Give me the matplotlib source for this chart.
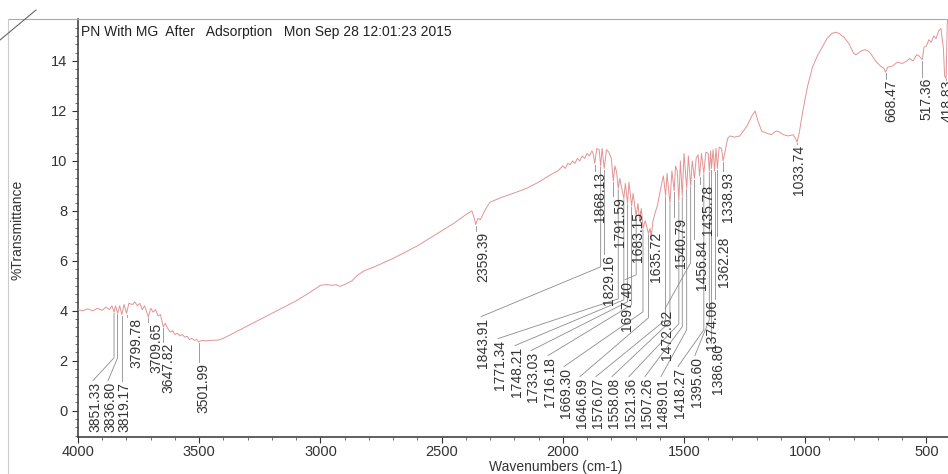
import numpy as np
import matplotlib
matplotlib.use("Agg")
import matplotlib.pyplot as plt
from matplotlib.ticker import MultipleLocator
from matplotlib.lines import Line2D

plt.rcParams['font.family'] = ['Liberation Sans', 'DejaVu Sans']

# espectro (numero de onda, %T)
wavenumber = [4000, 3980, 3960, 3940, 3920, 3900, 3885, 3870, 3860, 3851.33, 3845, 3836.80,
              3828, 3819.17, 3810, 3799.78, 3790, 3775, 3765, 3755, 3745, 3735, 3725, 3709.65,
              3700, 3690, 3680, 3670, 3660, 3647.82, 3640, 3630, 3620, 3610, 3600, 3590, 3580,
              3570, 3560, 3550, 3540, 3530, 3520, 3510, 3501.99, 3490, 3470, 3450, 3420, 3400,
              3350, 3300, 3250, 3200, 3150, 3100, 3050, 3010, 3000, 2975, 2950, 2935, 2920,
              2900, 2870, 2850, 2820, 2780, 2700, 2600, 2500, 2450, 2400, 2375, 2365, 2359.39,
              2350, 2340, 2320, 2300, 2250, 2200, 2150, 2100, 2050, 2020, 2000, 1990, 1980,
              1970, 1960, 1950, 1940, 1930, 1920, 1910, 1900, 1890, 1880, 1875, 1868.13, 1860,
              1850, 1843.91, 1838, 1829.16, 1820, 1810, 1800, 1791.59, 1785, 1778, 1771.34,
              1765, 1757, 1748.21, 1742, 1733.03, 1727, 1716.18, 1710, 1697.40, 1690, 1683.15,
              1676, 1669.30, 1660, 1646.69, 1640, 1635.72, 1628, 1620, 1610, 1600, 1590, 1585,
              1576.07, 1570, 1558.08, 1550, 1540.79, 1535, 1528, 1521.36, 1515, 1507.26, 1500,
              1489.01, 1482, 1472.62, 1466, 1456.84, 1450, 1442, 1435.78, 1428, 1418.27, 1410,
              1400, 1395.60, 1390, 1386.80, 1380, 1374.06, 1368, 1362.28, 1355, 1345, 1338.93,
              1330, 1320, 1310, 1290, 1270, 1255, 1240, 1220, 1207, 1195, 1180, 1170, 1155,
              1140, 1120, 1105, 1090, 1070, 1050, 1040, 1033.74, 1025, 1010, 990, 970, 950, 930,
              910, 890, 875, 860, 840, 820, 800, 790, 770, 755, 740, 730, 710, 690, 675, 668.47,
              660, 640, 620, 600, 580, 570, 555, 540, 530, 517.36, 510, 500, 490, 480, 470, 460,
              450, 440, 430, 425, 418.83, 414, 408]
transmittance = [4.05, 4.0, 4.08, 4.0, 4.1, 4.02, 4.15, 4.05, 4.2, 3.95, 4.2, 3.9,
                 4.2, 3.85, 4.25, 3.9, 4.3, 4.25, 4.35, 4.2, 4.3, 4.05, 4.2, 3.75,
                 4.1, 3.95, 4.05, 3.8, 3.85, 3.35, 3.5, 3.3, 3.15, 3.2, 3.05, 3.1, 3.0,
                 3.05, 2.95, 2.98, 2.85, 2.9, 2.82, 2.85, 2.75, 2.82, 2.8, 2.82, 2.83, 2.9,
                 3.15, 3.4, 3.65, 3.9, 4.15, 4.4, 4.7, 4.95, 5.02, 5.05, 5.02, 5.05, 4.98,
                 5.05, 5.2, 5.4, 5.6, 5.75, 6.1, 6.6, 7.2, 7.5, 7.85, 8.0, 7.7, 7.45,
                 7.7, 7.65, 8.05, 8.35, 8.55, 8.72, 8.9, 9.15, 9.45, 9.6, 9.8, 9.7, 9.9,
                 9.85, 10.0, 9.9, 10.1, 10.0, 10.2, 10.1, 10.3, 10.2, 10.4, 10.3, 9.9, 10.5,
                 10.45, 9.8, 10.5, 9.7, 10.45, 10.35, 10.1, 9.2, 9.8, 9.55, 8.9,
                 9.3, 8.9, 8.5, 9.1, 8.3, 9.15, 8.2, 8.7, 7.8, 8.3, 7.6,
                 8.1, 7.3, 7.6, 7.1, 7.3, 6.95, 7.6, 7.9, 8.2, 8.7, 9.2, 9.4,
                 8.6, 9.5, 8.3, 9.6, 8.8, 9.8, 9.6, 8.4, 10.0, 8.6, 10.3,
                 8.9, 10.2, 9.0, 10.0, 9.3, 10.1, 10.25, 9.4, 10.3, 9.5, 10.35,
                 10.3, 9.6, 10.4, 9.7, 10.45, 9.6, 10.5, 9.7, 10.55, 10.5, 10.0,
                 10.4, 10.9, 11.0, 10.95, 11.0, 11.2, 11.4, 11.8, 12.0, 11.6, 11.2, 11.15, 11.1,
                 11.05, 11.2, 11.15, 11.05, 11.0, 11.05, 10.9, 10.75, 11.1, 12.0, 13.0, 13.75, 14.2, 14.55,
                 14.9, 15.1, 15.15, 15.1, 14.95, 14.7, 14.3, 14.25, 14.4, 14.45, 14.4, 14.3, 14.0, 13.8, 13.7, 13.55,
                 13.75, 13.8, 13.95, 13.9, 14.0, 14.1, 14.0, 14.25, 14.2, 14.05, 14.55, 14.6, 14.85, 14.75, 15.0, 14.9,
                 15.2, 15.3, 14.5, 13.4, 13.3, 15.5, 16.2]

# picos marcados
peaks = [3851.33, 3836.80, 3819.17, 3799.78, 3709.65, 3647.82, 3501.99,
         2359.39, 1868.13, 1829.16, 1791.59, 1843.91, 1697.40, 1683.15, 1635.72,
         1540.79, 1472.62, 1456.84, 1435.78, 1374.06, 1362.28, 1338.93,
         1771.34, 1748.21, 1733.03, 1716.18, 1669.30, 1646.69, 1576.07, 1558.08,
         1521.36, 1507.26, 1489.01, 1418.27, 1395.60, 1386.80,
         1033.74, 668.47, 517.36, 418.83]

# donde va cada etiqueta: x del texto, borde superior, codo de la linea (None = recta)
label_x = [3930, 3868, 3810, 3757, 3678, 3629, 3484,
           2329, 1847, 1810, 1764, 2329, 1735, 1690, 1616,
           1513, 1570, 1426, 1401, 1385, 1335, 1319,
           2259, 2189, 2123, 2053, 1987, 1921, 1855, 1789,
           1719, 1653, 1587, 1517, 1447, 1360,
           1026, 646, 502, 413]
label_top = [1.16, 1.16, 1.16, 3.72, 3.52, 2.72, 1.92,
             7.16, 9.56, 6.24, 8.56, 3.72, 5.2, 7.96, 7.16,
             7.72, 4.04, 6.84, 9.04, 4.44, 6.96, 9.56,
             2.84, 2.56, 2.36, 2.16, 1.72, 1.32, 1.32, 1.32,
             1.32, 1.32, 1.32, 1.72, 2.16, 2.68,
             10.64, 13.24, 13.32, 13.24]
label_elbow = [2.12, 2.12, None, None, None, None, None,
               None, None, None, None, 5.76, 5.44, None, None,
               None, 5.92, None, None, None, None, None,
               4.48, 4.44, 4.36, 4.24, 3.96, 3.72, 3.64, 3.56,
               3.48, 3.36, 3.24, 3.24, 3.64, None,
               None, None, None, None]

fig = plt.figure(figsize=(9.48, 4.74), dpi=100)
ax = fig.add_axes([78/948, 37/474, 870/948, 418/474])

wn = np.array(wavenumber)
tr = np.array(transmittance)
ax.plot(wn, tr, color='#e39393', lw=0.7, zorder=3)

# lineas guia y etiquetas de picos
spec = lambda w: np.interp(w, wn[::-1], tr[::-1])
for p, lx, top, elb in zip(peaks, label_x, label_top, label_elbow):
    y0 = spec(p) - 0.05
    if elb is None:
        ax.plot([p, p], [y0, top + 0.05], color='#8c8c8c', lw=0.6, zorder=2)
    else:
        ax.plot([p, p, lx + 8], [y0, elb, top + 0.05], color='#8c8c8c', lw=0.6, zorder=2)
    ax.text(lx, top, "%.2f" % p, rotation=90, ha='center', va='top',
            fontsize=10, color='#333333')

ax.set_xlim(4000, 411)
ax.set_ylim(-1.05, 15.68)
ax.xaxis.set_major_locator(MultipleLocator(500))
ax.xaxis.set_minor_locator(MultipleLocator(100))
ax.yaxis.set_major_locator(MultipleLocator(2))
ax.yaxis.set_minor_locator(MultipleLocator(1/3))
ax.tick_params(labelsize=10.5, colors='#333333', length=4, width=0.8)
ax.tick_params(axis='x', pad=1.5)
ax.tick_params(which='minor', length=2.5, width=0.6, colors='#555555')
for s in ['top', 'right']:
    ax.spines[s].set_visible(False)
for s in ['left', 'bottom']:
    ax.spines[s].set_color('#444444')
    ax.spines[s].set_linewidth(1.2)

ax.text(0.003, 0.985, "PN With MG  After   Adsorption   Mon Sep 28 12:01:23 2015",
        transform=ax.transAxes, ha='left', va='top', fontsize=10, color='#222222')
fig.text(556/948, 1 - 467/474, "Wavenumbers (cm-1)", ha='center', va='center',
         fontsize=10, color='#333333')
fig.text(18/948, 1 - 230/474, "%Transmittance", rotation=90, ha='center', va='center',
         fontsize=10, color='#333333')

# bordes del papel escaneado
fig.add_artist(Line2D([8/948, 1], [1 - 19/474, 1 - 19/474], color='#aaaaaa', lw=0.8))
fig.add_artist(Line2D([8/948, 8/948], [0, 1 - 19/474], color='#cccccc', lw=0.8))
fig.add_artist(Line2D([0, 36/948], [1 - 40/474, 1 - 10/474], color='#666666', lw=0.8))

fig.savefig("out.png", dpi=100, facecolor='white')
